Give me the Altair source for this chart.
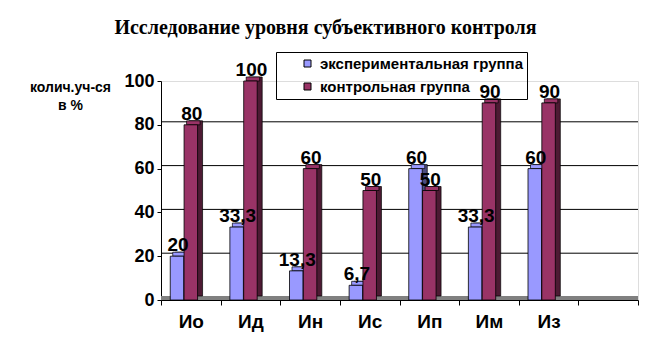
import altair as alt
import pandas as pd

categories = ["Ио", "Ид", "Ин", "Ис", "Ип", "Им", "Из"]
exp_values = [20, 33.3, 13.3, 6.7, 60, 33.3, 60]
ctrl_values = [80, 100, 60, 50, 50, 90, 90]
series_names = ["экспериментальная группа", "контрольная группа"]
x_domain = categories + [" "]
y_ticks = [0, 20, 40, 60, 80, 100]
grid_values = [20, 40, 60, 80]

exp_df = pd.DataFrame({"cat": categories, "series": series_names[0], "value": exp_values})
ctrl_df = pd.DataFrame({"cat": categories, "series": series_names[1], "value": ctrl_values})

W, H = 477, 219
FONT = "Liberation Sans"
BAR_W = 13.5
OFFS = {series_names[0]: -13.8, series_names[1]: 0.0}
SIDE = {series_names[0]: "#4D4D80", series_names[1]: "#4D1A33"}

x_axis = alt.Axis(
    title=None, labelAngle=0, tickBand="extent", tickSize=5, tickColor="black",
    domainColor="black", labelFont=FONT, labelFontSize=19, labelFontWeight="bold",
    labelColor="black", labelPadding=7, grid=False,
)
x_scale = alt.Scale(domain=x_domain, paddingInner=0, paddingOuter=0)
y_axis = alt.Axis(
    values=y_ticks, grid=False, domainColor="black", tickColor="black", tickSize=4,
    labelFont=FONT, labelFontSize=18, labelFontWeight="bold", labelColor="black",
    labelPadding=3, title=["колич.уч-ся", "в %"], titleAngle=0, titleFont=FONT,
    titleFontSize=14, titleFontWeight="bold", titleColor="black", titleX=-91,
    titleY=10, titleAlign="center", titleBaseline="alphabetic", titleLineHeight=18,
)
y_scale = alt.Scale(domain=[0, 100])

color_scale = alt.Scale(domain=series_names, range=["#9999FF", "#993366"])
legend = alt.Legend(
    orient="none", legendX=115, legendY=-29, title=None, symbolType="square",
    symbolSize=49, symbolStrokeColor="black", symbolStrokeWidth=1,
    labelFont=FONT, labelFontSize=15, labelFontWeight="bold", labelColor="black",
    padding=4, symbolOffset=20, labelOffset=5, strokeColor="black", fillColor="transparent",
    rowPadding=7, labelLimit=400, direction="vertical",
)


def X():
    return alt.X("cat:N", sort=x_domain, scale=x_scale, axis=x_axis)


def Y(field="value:Q"):
    return alt.Y(field, scale=y_scale, axis=y_axis)


def COLOR():
    return alt.Color("series:N", scale=color_scale, legend=legend)


grid = alt.Chart(pd.DataFrame({"value": grid_values})).mark_rule(
    color="black", strokeWidth=1, yOffset=-3
).encode(y=Y())

floor = alt.Chart(pd.DataFrame({"value": [0]})).mark_rule(
    color="#808080", strokeWidth=4, yOffset=-2
).encode(y=Y())

layers = [grid, floor]
# back faces (side + top) for both series, then front faces
for df in (exp_df, ctrl_df):
    s = df["series"].iloc[0]
    layers.append(
        alt.Chart(df).mark_bar(
            width=BAR_W, xOffset=OFFS[s] + 5, yOffset=-4, y2Offset=-4,
            color=SIDE[s], stroke="black", strokeWidth=0.7,
        ).encode(x=X(), y=Y())
    )
    layers.append(
        alt.Chart(df).mark_bar(
            width=BAR_W, xOffset=OFFS[s] + 2.5, yOffset=-4, y2Offset=0,
            stroke="black", strokeWidth=0.7,
        ).encode(x=X(), y=Y(), y2=alt.Y2("value:Q"), color=COLOR())
    )
for df in (exp_df, ctrl_df):
    s = df["series"].iloc[0]
    layers.append(
        alt.Chart(df).mark_bar(
            width=BAR_W, xOffset=OFFS[s], stroke="black", strokeWidth=0.8,
        ).encode(x=X(), y=Y(), color=COLOR())
    )
for df in (exp_df, ctrl_df):
    s = df["series"].iloc[0]
    layers.append(
        alt.Chart(df).transform_calculate(
            label="replace(format(datum.value, '.1~f'), '.', ',')"
        ).mark_text(
            font=FONT, fontSize=19, fontWeight="bold", dy=-11, baseline="middle",
            xOffset=OFFS[s] + 1, color="black",
        ).encode(x=X(), y=Y(), text="label:N")
    )

chart = alt.layer(*layers).properties(
    width=W, height=H,
    padding={"left": 161, "top": 81, "right": 13, "bottom": 51},
    autosize=alt.AutoSizeParams(type="none"),
    title=alt.Title(
        "Исследование уровня субъективного контроля", font="Liberation Serif", fontSize=20,
        fontWeight="bold", color="black", anchor="middle", frame="group", dx=-74, dy=-10,
    ),
).configure_view(stroke=None).configure(background="white")

chart.save("out.html", embed_options={"renderer": "svg", "actions": False})
